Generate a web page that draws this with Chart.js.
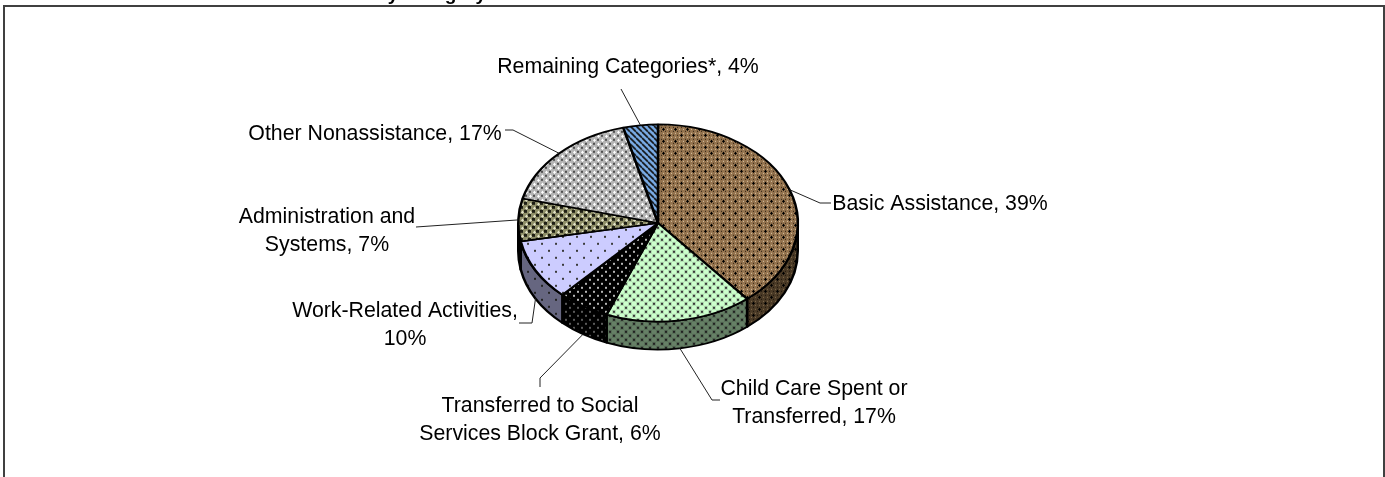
<!DOCTYPE html>
<html>
<head>
<meta charset="utf-8">
<title>Spending by Category</title>
<script src="https://cdn.jsdelivr.net/npm/chart.js@4"></script>
<style>
  html, body { margin: 0; padding: 0; background: #fff; overflow: hidden; }
  canvas { display: block; }
</style>
</head>
<body>
<canvas id="spendingPie" width="1385" height="477"></canvas>
<script>
const categories = ['Basic Assistance', 'Child Care Spent or Transferred', 'Transferred to Social Services Block Grant',
    'Work-Related Activities', 'Administration and Systems', 'Other Nonassistance', 'Remaining Categories*'];
const shares = [39, 17, 6, 10, 7, 17, 4];

// wrapped label text, {v} is replaced with the share
const labelLines = [
    ['Basic Assistance, {v}%'],
    ['Child Care Spent or', 'Transferred, {v}%'],
    ['Transferred to Social', 'Services Block Grant, {v}%'],
    ['Work-Related Activities,', '{v}%'],
    ['Administration and', 'Systems, {v}%'],
    ['Other Nonassistance, {v}%'],
    ['Remaining Categories*, {v}%']
];

const topColors = ['#94734E', '#CCFFCC', '#000000', '#CCCCFF', '#8E8E68', '#B4B4B4', '#7AACE6'];
const sideColors = ['#4A3A26', '#668066', '#000000', '#666680', '#47472F', '#5A5A5A', '#38516F'];

// pie is squashed to an ellipse, with a wall below the front rim
const SQUASH = 0.705;
const DEPTH = 28;

// label centre, baseline of first line, and where the leader bends on the way to the label
const labelBoxes = [
    { x: 940, y: 210, bends: [[820, 203], [831, 203]] },
    { x: 814, y: 395, bends: [[712, 400], [720, 400]] },
    { x: 540, y: 411.5, bends: [[540, 378], [540, 387]] },
    { x: 405, y: 317, bends: [[532, 323], [519, 323]] },
    { x: 327, y: 223, bends: [[416, 227]] },
    { x: 375, y: 140, bends: [[513, 130], [505, 130]] },
    { x: 628, y: 73, bends: [[621, 89]] }
];
const onWall = [false, true, true, true, false, false, false];

function makeTile(w, h, paint) {
    const tile = document.createElement('canvas');
    tile.width = w;
    tile.height = h;
    paint(tile.getContext('2d'));
    return tile;
}

function dots(g, size, list, color) {
    g.fillStyle = color;
    list.forEach(p => g.fillRect(p[0], p[1], size, size));
}

function plus(g, x, y, color) {
    g.fillStyle = color;
    g.fillRect(x - 1, y, 3, 1);
    g.fillRect(x, y - 1, 1, 3);
}

// one little tile per slice, base is the top or the wall colour
const tilePainters = [
    (g, base, dark, side) => {
        g.fillStyle = base; g.fillRect(0, 0, 12, 12);
        for (let i = 0; i < 12; i += 4) for (let j = 0; j < 12; j += 4) {
            dots(g, 1, [[i + 1, j + 1]], side ? '#1c140c' : '#2E2214');
            dots(g, 1, [[i + 3, j + 3]], side ? '#857052' : '#DCC8A8');
        }
        plus(g, 3, 3, '#000'); plus(g, 9, 9, '#000');
    },
    (g, base, dark) => {
        g.fillStyle = base; g.fillRect(0, 0, 8, 8);
        dots(g, 4, [[0, 0], [4, 4]], 'rgba(0,0,0,0.14)');
        dots(g, 2, [[1, 1], [5, 5]], dark);
    },
    (g, base, dark, side) => {
        g.fillStyle = base; g.fillRect(0, 0, 8, 8);
        dots(g, 2, [[1, 1], [5, 5]], side ? '#5A5A5A' : '#B4B4B4');
    },
    (g, base, dark) => {
        g.fillStyle = base; g.fillRect(0, 0, 14, 14);
        dots(g, 2, [[2, 2], [9, 9]], dark);
    },
    (g, base, dark, side) => {
        g.fillStyle = base; g.fillRect(0, 0, 8, 8);
        dots(g, 3, [[4, 0], [0, 4]], '#1E1E14');
        plus(g, 2, 2, side ? '#8a8a70' : '#E4E4C8');
        plus(g, 6, 6, side ? '#8a8a70' : '#E4E4C8');
    },
    (g, base, dark, side) => {
        g.fillStyle = base; g.fillRect(0, 0, 8, 8);
        dots(g, 2, [[5, 1], [1, 5]], '#505050');
        plus(g, 2, 2, side ? '#aaa' : '#FFFFFF');
        plus(g, 6, 6, side ? '#aaa' : '#FFFFFF');
    },
    (g, base) => {
        g.fillStyle = base; g.fillRect(0, 0, 6, 6);
        g.strokeStyle = '#101010'; g.lineWidth = 1.6;
        g.beginPath();
        for (let k = -6; k <= 6; k += 6) { g.moveTo(k, 0); g.lineTo(k + 6, 6); }
        g.stroke();
    }
];

const ctxMain = document.getElementById('spendingPie').getContext('2d');
const unsquash = new DOMMatrix().scale(1, 1 / SQUASH);

function slicePattern(i, base, side) {
    const size = [12, 8, 8, 14, 8, 8, 6][i];
    const tile = makeTile(size, size, g => tilePainters[i](g, base, side ? '#222' : '#3A3A3A', side));
    const pattern = ctxMain.createPattern(tile, 'repeat');
    pattern.setTransform(unsquash);
    return pattern;
}

const topPatterns = topColors.map((c, i) => slicePattern(i, c, false));
const sidePatterns = sideColors.map((c, i) => slicePattern(i, c, true));

const pie3d = {
    id: 'pie3d',
    beforeDraw(chart) {
        const c = chart.ctx;
        c.save();
        c.fillStyle = '#fff';
        c.fillRect(0, 0, chart.width, chart.height);
        // chart frame, open at the bottom
        c.strokeStyle = '#404040';
        c.lineWidth = 2;
        c.beginPath();
        c.moveTo(4, 477); c.lineTo(4, 6); c.lineTo(1384, 6); c.lineTo(1384, 477);
        c.stroke();
        // heading sits above the frame, only its descenders are on the page
        c.fillStyle = '#000';
        c.font = 'bold 19px "Liberation Sans"';
        c.textAlign = 'right';
        c.textBaseline = 'alphabetic';
        c.fillText('by Category', 486, 0);
        c.restore();
    },
    beforeDatasetsDraw(chart) {
        const c = chart.ctx;
        const arcs = chart.getDatasetMeta(0).data;
        const cy = arcs[0].y;
        c.save();
        c.translate(0, cy);
        c.scale(1, SQUASH);
        c.translate(0, -cy);
        arcs.forEach((arc, i) => {
            // only the part on the front half of the rim has a wall
            const a0 = Math.max(normal(arc.startAngle), 0);
            const a1 = Math.min(normal(arc.startAngle) + (arc.endAngle - arc.startAngle), Math.PI);
            if (a1 <= a0) return;
            c.beginPath();
            c.arc(arc.x, arc.y, arc.outerRadius, a0, a1);
            c.arc(arc.x, arc.y + DEPTH / SQUASH, arc.outerRadius, a1, a0, true);
            c.closePath();
            c.fillStyle = sidePatterns[i];
            c.fill();
            c.strokeStyle = '#000';
            c.lineWidth = 2.5;
            c.lineJoin = 'round';
            c.stroke();
        });
    },
    afterDatasetsDraw(chart) {
        const c = chart.ctx;
        c.restore();
        const arcs = chart.getDatasetMeta(0).data;
        c.save();
        c.strokeStyle = '#222';
        c.lineWidth = 1;
        c.fillStyle = '#000';
        c.font = '21.3px "Liberation Sans"';
        c.textAlign = 'center';
        c.textBaseline = 'alphabetic';
        arcs.forEach((arc, i) => {
            const mid = (arc.startAngle + arc.endAngle) / 2;
            const box = labelBoxes[i];
            const sx = arc.x + arc.outerRadius * Math.cos(mid);
            const sy = arc.y + arc.outerRadius * SQUASH * Math.sin(mid) + (onWall[i] ? DEPTH : 0);
            c.beginPath();
            c.moveTo(sx, sy);
            box.bends.forEach(p => c.lineTo(p[0], p[1]));
            c.stroke();
            labelLines[i].forEach((line, n) => {
                c.fillText(line.replace('{v}', shares[i]), box.x, box.y + n * 28);
            });
        });
        c.restore();
    }
};

// angle folded to the -PI..PI range the wall test works in
function normal(a) {
    while (a > Math.PI) a -= 2 * Math.PI;
    return a;
}

new Chart(ctxMain, {
    type: 'pie',
    data: {
        labels: categories,
        datasets: [{
            data: shares,
            backgroundColor: topPatterns,
            borderColor: '#000',
            borderWidth: 2.5,
            hoverOffset: 0
        }]
    },
    options: {
        responsive: false,
        animation: false,
        events: [],
        layout: { padding: { left: 517, right: 586, top: 82, bottom: 113 } },
        plugins: { legend: { display: false }, tooltip: { enabled: false } }
    },
    plugins: [pie3d]
});
</script>
</body>
</html>
